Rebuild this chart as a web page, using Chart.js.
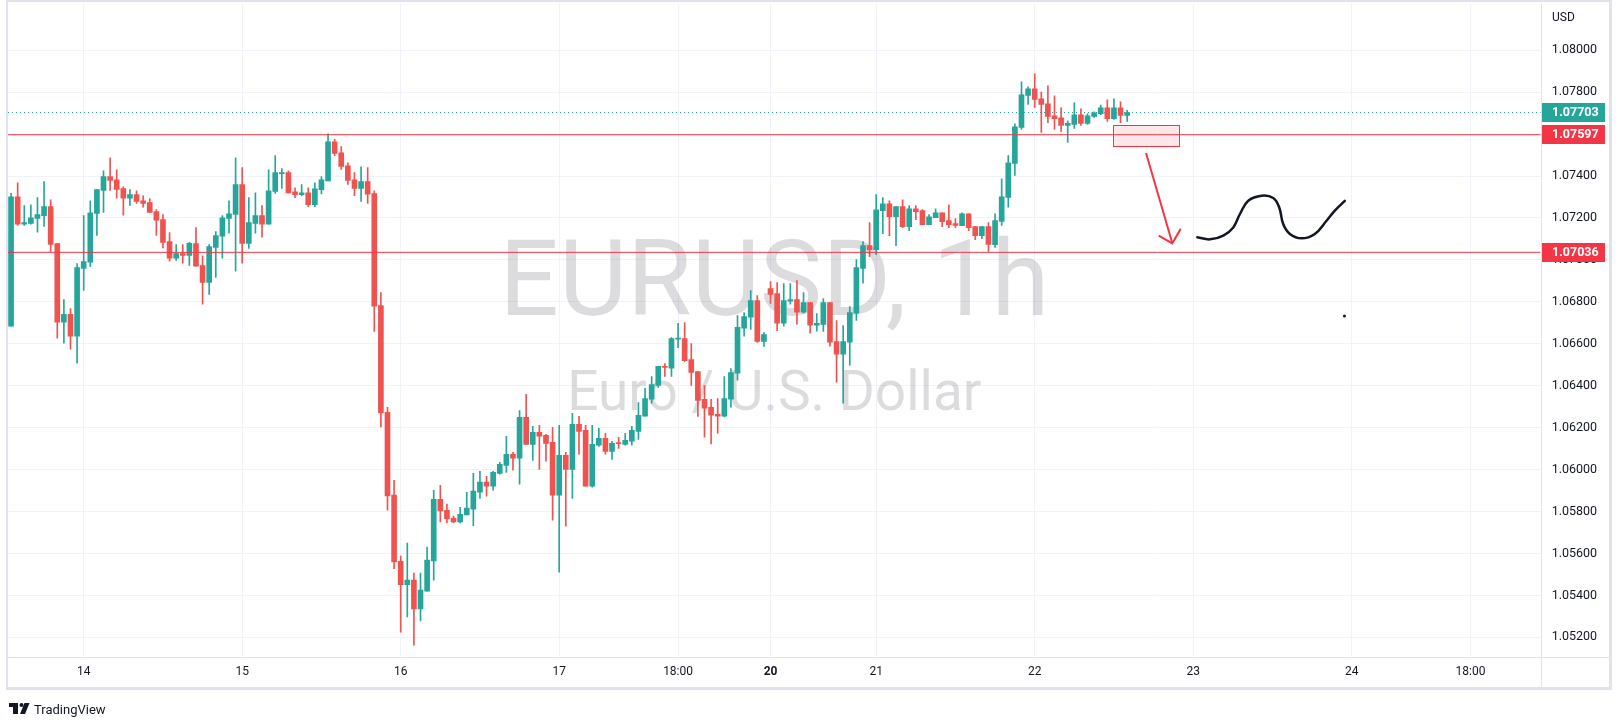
<!DOCTYPE html>
<html>
<head>
<meta charset="utf-8">
<script src="https://cdn.jsdelivr.net/npm/chart.js@4.4.0/dist/chart.umd.min.js"></script>
<style>
html, body { margin: 0; padding: 0; background: #fff; overflow: hidden; }
canvas { display: block; }
</style>
</head>
<body>
<canvas id="my-chart" width="1621" height="727"></canvas>
<script>
// EURUSD 1h candles, one per hourly slot (slot 0 = the "14" tick)
const firstSlot = -11;
const opens = [
  1.06684,1.07301,1.07170,1.07174,1.07198,1.07211,1.07254,1.07078,1.06703,1.06740,1.06636,
  1.06960,1.06989,1.07222,1.07332,1.07397,1.07382,1.07340,1.07294,1.07311,1.07282,1.07273,
  1.07230,1.07192,1.07087,1.07008,1.07030,1.07022,1.07078,1.06973,1.06893,1.07060,1.07113,
  1.07198,1.07217,1.07359,1.07079,1.07174,1.07211,1.07170,1.07327,1.07411,1.07416,1.07325,
  1.07311,1.07320,1.07263,1.07335,1.07377,1.07563,1.07511,1.07449,1.07382,1.07341,1.07373,
  1.07316,1.06782,1.06273,1.05878,1.05563,1.05451,1.05473,1.05336,1.05420,1.05565,1.05858,
  1.05806,1.05768,1.05751,1.05784,1.05811,1.05892,1.05940,1.05921,1.05982,1.06020,1.06073,
  1.06054,1.06249,1.06120,1.06178,1.06163,1.06130,1.05878,1.06068,1.06001,1.06216,1.06187,
  1.05921,1.06116,1.06149,1.06087,1.06127,1.06120,1.06135,1.06182,1.06255,1.06336,1.06401,
  1.06492,1.06484,1.06622,1.06625,1.06525,1.06468,1.06335,1.06297,1.06263,1.06255,1.06336,
  1.06460,1.06674,1.06727,1.06806,1.06611,1.06863,1.06839,1.06698,1.06803,1.06811,1.06751,
  1.06797,1.06689,1.06692,1.06797,1.06611,1.06551,1.06608,1.06746,1.06960,1.07068,1.07049,
  1.07235,1.07268,1.07206,1.07254,1.07159,1.07244,1.07235,1.07168,1.07201,1.07225,1.07187,
  1.07173,1.07163,1.07220,1.07159,1.07116,1.07159,1.07073,1.07184,1.07298,1.07460,1.07632,
  1.07784,1.07816,1.07768,1.07744,1.07687,1.07678,1.07641,1.07646,1.07692,1.07651,1.07684,
  1.07698,1.07725,1.07674,1.07725,1.07689
];
const highs = [
  1.07317,1.07368,1.07259,1.07263,1.07297,1.07373,1.07287,1.07078,1.06811,1.06768,1.06982,
  1.07211,1.07282,1.07335,1.07425,1.07487,1.07430,1.07349,1.07335,1.07330,1.07306,1.07292,
  1.07240,1.07216,1.07130,1.07073,1.07073,1.07084,1.07154,1.07020,1.07073,1.07135,1.07211,
  1.07282,1.07487,1.07440,1.07297,1.07320,1.07259,1.07430,1.07497,1.07435,1.07425,1.07344,
  1.07359,1.07344,1.07368,1.07397,1.07601,1.07575,1.07540,1.07463,1.07416,1.07444,1.07440,
  1.07330,1.06844,1.06297,1.05949,1.05587,1.05649,1.05506,1.05506,1.05630,1.05901,1.05925,
  1.05835,1.05778,1.05820,1.05892,1.05982,1.05992,1.05968,1.05992,1.06035,1.06159,1.06082,
  1.06282,1.06359,1.06206,1.06211,1.06168,1.06201,1.06211,1.06082,1.06268,1.06254,1.06211,
  1.06211,1.06197,1.06173,1.06135,1.06154,1.06173,1.06206,1.06320,1.06387,1.06444,1.06492,
  1.06506,1.06630,1.06697,1.06701,1.06601,1.06468,1.06401,1.06335,1.06339,1.06444,1.06482,
  1.06735,1.06749,1.06854,1.06830,1.06654,1.06897,1.06892,1.06887,1.06887,1.06901,1.06844,
  1.06797,1.06744,1.06816,1.06797,1.06711,1.06687,1.06778,1.07001,1.07087,1.07178,1.07311,
  1.07297,1.07282,1.07254,1.07287,1.07259,1.07259,1.07240,1.07216,1.07244,1.07225,1.07263,
  1.07197,1.07225,1.07220,1.07159,1.07159,1.07178,1.07220,1.07387,1.07497,1.07649,1.07849,
  1.07825,1.07887,1.07801,1.07830,1.07782,1.07725,1.07663,1.07749,1.07720,1.07697,1.07706,
  1.07739,1.07763,1.07768,1.07754,1.07713
];
const lows = [
  1.06684,1.07165,1.07165,1.07170,1.07132,1.07160,1.07041,1.06627,1.06603,1.06574,1.06508,
  1.06855,1.06968,1.07117,1.07227,1.07332,1.07294,1.07213,1.07260,1.07270,1.07251,1.07227,
  1.07117,1.07057,1.06994,1.06998,1.06984,1.06974,1.06970,1.06789,1.06836,1.06917,1.07008,
  1.07127,1.06946,1.06984,1.07055,1.07127,1.07108,1.07170,1.07317,1.07341,1.07320,1.07297,
  1.07306,1.07254,1.07254,1.07315,1.07377,1.07497,1.07432,1.07360,1.07306,1.07279,1.07270,
  1.06659,1.06203,1.05806,1.05527,1.05225,1.05297,1.05163,1.05278,1.05420,1.05473,1.05751,
  1.05746,1.05746,1.05746,1.05784,1.05732,1.05863,1.05873,1.05902,1.05978,1.05987,1.05997,
  1.05930,1.06120,1.06044,1.06001,1.06040,1.05759,1.05511,1.05730,1.05863,1.06073,1.05921,
  1.05916,1.06111,1.06073,1.06049,1.06101,1.06116,1.06116,1.06144,1.06255,1.06317,1.06392,
  1.06444,1.06444,1.06582,1.06516,1.06401,1.06254,1.06155,1.06122,1.06174,1.06251,1.06298,
  1.06427,1.06636,1.06668,1.06606,1.06587,1.06792,1.06663,1.06684,1.06789,1.06693,1.06746,
  1.06651,1.06660,1.06659,1.06589,1.06417,1.06317,1.06498,1.06712,1.06889,1.07016,1.07025,
  1.07125,1.07116,1.07068,1.07154,1.07140,1.07192,1.07168,1.07168,1.07201,1.07159,1.07154,
  1.07154,1.07163,1.07140,1.07097,1.07101,1.07040,1.07059,1.07165,1.07251,1.07403,1.07622,
  1.07741,1.07727,1.07608,1.07655,1.07622,1.07613,1.07560,1.07627,1.07641,1.07646,1.07679,
  1.07693,1.07660,1.07670,1.07655,1.07660
];
const closes = [
  1.07301,1.07170,1.07178,1.07201,1.07216,1.07254,1.07074,1.06703,1.06740,1.06636,1.06963,
  1.06992,1.07225,1.07335,1.07397,1.07379,1.07336,1.07294,1.07311,1.07279,1.07270,1.07227,
  1.07189,1.07084,1.07008,1.07030,1.07022,1.07079,1.06970,1.06893,1.07063,1.07116,1.07201,
  1.07220,1.07359,1.07079,1.07178,1.07211,1.07170,1.07330,1.07416,1.07416,1.07320,1.07311,
  1.07320,1.07263,1.07339,1.07382,1.07563,1.07508,1.07446,1.07379,1.07341,1.07373,1.07313,
  1.06779,1.06270,1.05874,1.05560,1.05451,1.05473,1.05336,1.05425,1.05568,1.05858,1.05803,
  1.05765,1.05751,1.05787,1.05816,1.05897,1.05940,1.05921,1.05987,1.06025,1.06073,1.06054,
  1.06249,1.06120,1.06178,1.06159,1.06125,1.05878,1.06068,1.06001,1.06216,1.06182,1.05921,
  1.06120,1.06149,1.06087,1.06125,1.06124,1.06139,1.06187,1.06259,1.06339,1.06406,1.06492,
  1.06487,1.06625,1.06625,1.06520,1.06463,1.06330,1.06293,1.06259,1.06255,1.06339,1.06463,
  1.06678,1.06730,1.06806,1.06611,1.06644,1.06835,1.06698,1.06806,1.06811,1.06751,1.06797,
  1.06689,1.06698,1.06797,1.06608,1.06551,1.06611,1.06749,1.06963,1.07068,1.07049,1.07239,
  1.07268,1.07206,1.07254,1.07159,1.07244,1.07230,1.07168,1.07206,1.07225,1.07182,1.07168,
  1.07165,1.07220,1.07154,1.07116,1.07159,1.07074,1.07187,1.07301,1.07463,1.07635,1.07787,
  1.07816,1.07765,1.07741,1.07684,1.07674,1.07641,1.07651,1.07692,1.07651,1.07687,1.07701,
  1.07725,1.07674,1.07725,1.07689,1.07703
];

const tickSlots = [0, 24, 48, 72, 90, 104, 120, 144, 168, 192, 210];
const tickLabels = ['14', '15', '16', '17', '18:00', '20', '21', '22', '23', '24', '18:00'];
const priceTicks = [1.052, 1.054, 1.056, 1.058, 1.060, 1.062, 1.064, 1.066, 1.068, 1.070,
                    1.072, 1.074, 1.076, 1.078, 1.080];

const levels = [1.07597, 1.07036];
const lastPrice = 1.07703;
// drawings
const zone = { x0: 155.9, x1: 165.9, y0: 1.07542, y1: 1.07643 };
const arrowShaft = [{ x: 160.86, y: 1.07510 }, { x: 164.84, y: 1.07079 }];
const arrowHead = [{ x: 162.78, y: 1.07116 }, { x: 164.84, y: 1.07079 }, { x: 166.11, y: 1.07148 }];
const waveX = [168.63, 170.55, 172.56, 174.07, 175.08, 176.34, 178.36, 180.12,
               181.03, 181.63, 182.64, 184.41, 186.42, 188.19, 189.45, 190.96];
const waveY = [1.07108, 1.07098, 1.07116, 1.07155, 1.07219, 1.07282, 1.07306, 1.07295,
               1.07250, 1.07171, 1.07124, 1.07103, 1.07124, 1.07187, 1.07235, 1.07282];
const dot = { x: 190.9, y: 1.06733 };

const xMin = -11.463, xMax = 220.62;
const yMin = 1.0510619, yMax = 1.0822048;

const UP = '#26a69a', DOWN = '#ef5350', RED = '#f23645';
const FONT = 'Roboto, "Liberation Sans", sans-serif';

const slots = opens.map((o, i) => firstSlot + i);
const candleColors = opens.map((o, i) => closes[i] >= o ? UP : DOWN);

const watermark = {
  id: 'watermark',
  beforeDatasetsDraw(chart) {
    const { ctx, chartArea } = chart;
    const cx = (chartArea.left + chartArea.right) / 2;
    ctx.save();
    ctx.fillStyle = 'rgba(19,23,34,0.15)';
    ctx.textAlign = 'center';
    ctx.textBaseline = 'alphabetic';
    ctx.font = '105px ' + FONT;
    ctx.fillText('EURUSD, 1h', cx, 315);
    ctx.font = '55px ' + FONT;
    ctx.fillText('Euro / U.S. Dollar', cx, 410);
    ctx.restore();
  }
};

const drawings = {
  id: 'drawings',
  afterDatasetsDraw(chart) {
    const { ctx, chartArea, scales: { x, y } } = chart;
    ctx.save();
    ctx.beginPath();
    ctx.rect(chartArea.left, chartArea.top, chartArea.right - chartArea.left, chartArea.bottom - chartArea.top);
    ctx.clip();
    const l = x.getPixelForValue(zone.x0), r = x.getPixelForValue(zone.x1);
    const t = y.getPixelForValue(zone.y1), b = y.getPixelForValue(zone.y0);
    ctx.fillStyle = 'rgba(242,54,69,0.12)';
    ctx.fillRect(l, t, r - l, b - t);
    ctx.strokeStyle = RED;
    ctx.lineWidth = 1;
    ctx.strokeRect(Math.round(l) + 0.5, Math.round(t) + 0.5, Math.round(r - l), Math.round(b - t));
    ctx.restore();
  },
  afterDraw(chart) {
    const { ctx, chartArea, scales: { y } } = chart;
    const right = 1609;
    ctx.save();
    // frame
    ctx.fillStyle = '#e0e3eb';
    ctx.fillRect(6, 0, right + 3 - 6, 2);
    ctx.fillRect(6, 0, 2, 690);
    ctx.fillRect(right, 0, 3, 690);
    ctx.fillRect(6, 687, right + 3 - 6, 3);
    // axis separators
    ctx.fillRect(Math.round(chartArea.right), chartArea.top, 1, 687 - chartArea.top);
    ctx.fillRect(chartArea.left, Math.round(chartArea.bottom), right - chartArea.left, 1);
    // price badges
    const badges = [[lastPrice, UP], [levels[0], RED], [levels[1], RED]];
    ctx.font = 'bold 12.5px ' + FONT;
    ctx.textBaseline = 'middle';
    ctx.textAlign = 'left';
    badges.forEach(([v, c]) => {
      const py = y.getPixelForValue(v);
      ctx.fillStyle = c;
      ctx.fillRect(Math.round(chartArea.right) + 1, Math.round(py - 9.5), 63, 19);
      ctx.fillStyle = '#ffffff';
      ctx.fillText(v.toFixed(5), 1552, py + 0.5);
    });
    // currency
    ctx.fillStyle = '#131722';
    ctx.font = '12px ' + FONT;
    ctx.fillText('USD', 1552, 17.5);
    // logo
    ctx.fillRect(9, 703, 9, 4);
    ctx.fillRect(13, 703, 5, 11);
    ctx.beginPath();
    ctx.arc(21.5, 705, 2, 0, Math.PI * 2);
    ctx.fill();
    ctx.beginPath();
    ctx.moveTo(24.5, 703); ctx.lineTo(29.5, 703); ctx.lineTo(25, 714); ctx.lineTo(20, 714);
    ctx.closePath();
    ctx.fill();
    ctx.font = '13px ' + FONT;
    ctx.textBaseline = 'alphabetic';
    ctx.fillText('TradingView', 34, 714);
    ctx.restore();
  }
};

const lineDs = (data, color, width, extra) => Object.assign({
  type: 'line', data, borderColor: color, borderWidth: width,
  pointRadius: 0, fill: false, tension: 0
}, extra || {});

new Chart(document.querySelector('#my-chart'), {
  type: 'bar',
  data: {
    datasets: [
      lineDs([{ x: xMin, y: lastPrice }, { x: xMax, y: lastPrice }], UP, 1, { borderDash: [1, 3], order: 9 }),
      {
        type: 'bar', order: 6, grouped: false, barThickness: 1,
        data: slots.map((s, i) => ({ x: s, y: [lows[i], highs[i]] })),
        backgroundColor: candleColors, borderWidth: 0
      },
      {
        type: 'bar', order: 5, grouped: false, barThickness: 5, minBarLength: 1,
        data: slots.map((s, i) => ({ x: s, y: [opens[i], closes[i]] })),
        backgroundColor: candleColors, borderWidth: 0
      },
      lineDs([{ x: xMin, y: levels[0] }, { x: xMax, y: levels[0] }], RED, 1, { order: 3 }),
      lineDs([{ x: xMin, y: levels[1] }, { x: xMax, y: levels[1] }], RED, 1, { order: 3 }),
      lineDs(arrowShaft, RED, 2, { order: 2 }),
      lineDs(arrowHead, RED, 2, { order: 2 }),
      lineDs(waveX.map((v, i) => ({ x: v, y: waveY[i] })), '#131722', 2.5,
        { order: 1, tension: 0.4, borderCapStyle: 'round', borderJoinStyle: 'round' }),
      lineDs([dot], '#131722', 0, { order: 1, showLine: false, pointRadius: 1.5, pointBackgroundColor: '#131722', pointBorderWidth: 0 })
    ]
  },
  options: {
    responsive: false,
    animation: false,
    devicePixelRatio: 1,
    layout: { padding: { left: 8, top: 3, right: 12, bottom: 40 } },
    plugins: { legend: { display: false }, tooltip: { enabled: false } },
    scales: {
      x: {
        type: 'linear', min: xMin, max: xMax, offset: false,
        afterFit: s => { s.height = 30; },
        afterBuildTicks: s => { s.ticks = tickSlots.map(v => ({ value: v })); },
        grid: { color: '#f0f3fa', drawTicks: false, offset: false },
        border: { display: false },
        ticks: {
          autoSkip: false, maxRotation: 0, padding: 8, color: '#131722',
          font: c => ({ family: FONT, size: 12, weight: c.tick && c.tick.label === '20' ? 'bold' : 'normal' }),
          callback: v => tickLabels[tickSlots.indexOf(v)]
        }
      },
      y: {
        position: 'right', min: yMin, max: yMax,
        afterFit: s => { s.width = 68.3; },
        afterBuildTicks: s => { s.ticks = priceTicks.map(v => ({ value: v })); },
        grid: { color: '#f0f3fa', drawTicks: true, tickLength: 11, tickColor: 'rgba(0,0,0,0)' },
        border: { display: false },
        ticks: {
          padding: 0, color: '#131722', font: { family: FONT, size: 12.5, lineHeight: 0.4 },
          callback: v => v.toFixed(5)
        }
      }
    }
  },
  plugins: [watermark, drawings]
});
</script>
</body>
</html>
